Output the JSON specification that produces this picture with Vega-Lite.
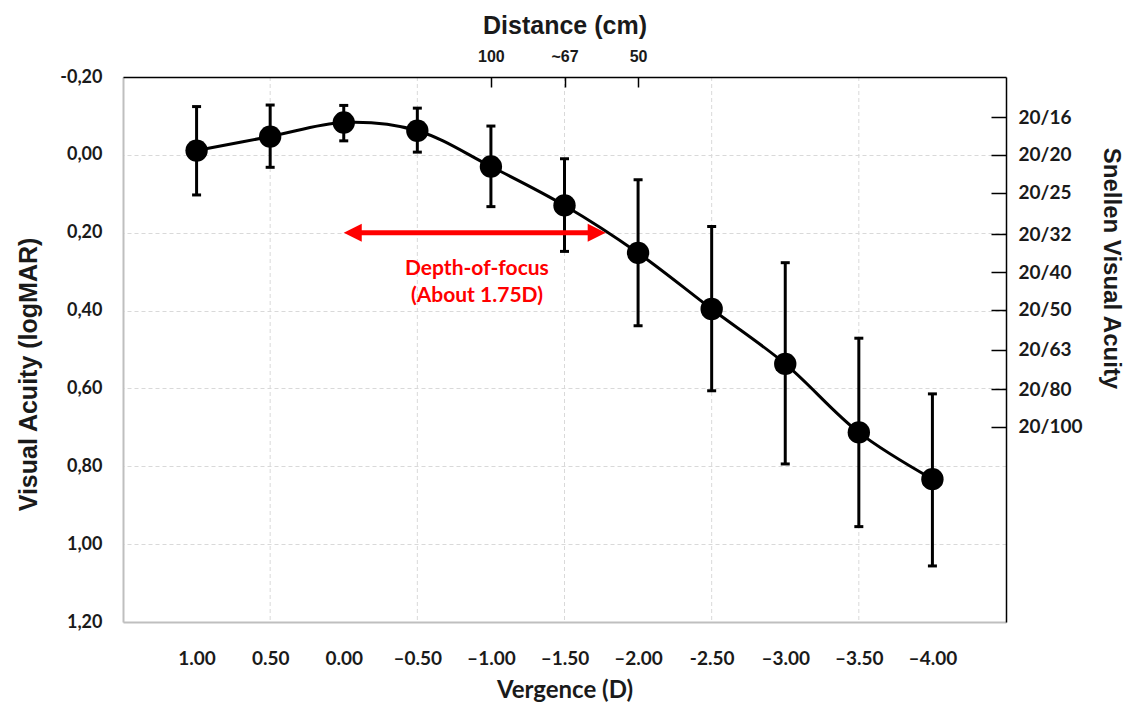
{
  "$schema": "https://vega.github.io/schema/vega-lite/v6.json",
  "width": 883,
  "height": 545,
  "autosize": {"type": "none"},
  "padding": {"left": 123, "top": 77, "right": 120, "bottom": 82},
  "background": "white",
  "config": {"view": {"stroke": null}},
  "datasets": {
    "va": [
      {"v": 1.0, "a": -0.011, "lo": -0.124, "hi": 0.103},
      {"v": 0.5, "a": -0.047, "lo": -0.128, "hi": 0.032},
      {"v": 0.0, "a": -0.083, "lo": -0.127, "hi": -0.036},
      {"v": -0.5, "a": -0.062, "lo": -0.120, "hi": -0.007},
      {"v": -1.0, "a": 0.030, "lo": -0.074, "hi": 0.133},
      {"v": -1.5, "a": 0.130, "lo": 0.010, "hi": 0.248},
      {"v": -2.0, "a": 0.252, "lo": 0.064, "hi": 0.439},
      {"v": -2.5, "a": 0.396, "lo": 0.184, "hi": 0.606},
      {"v": -3.0, "a": 0.537, "lo": 0.277, "hi": 0.794},
      {"v": -3.5, "a": 0.713, "lo": 0.471, "hi": 0.955},
      {"v": -4.0, "a": 0.833, "lo": 0.614, "hi": 1.056}
    ],
    "grid": [{"g": 0.5}, {"g": -0.5}, {"g": -1.5}, {"g": -2.5}, {"g": -3.5}],
    "arrow": [{"from": 0.0, "to": -1.78, "s1": -0.05, "s2": -1.73, "y": 0.2}],
    "note": [
      {"v": -0.905, "a": 0.293, "t": "Depth-of-focus"},
      {"v": -0.905, "a": 0.362, "t": "(About 1.75D)"}
    ]
  },
  "resolve": {"axis": {"x": "independent", "y": "independent"}},
  "layer": [
    {
      "data": {"name": "grid"},
      "mark": {"type": "rule", "color": "#d9d9d9", "strokeWidth": 1, "strokeDash": [4, 3]},
      "encoding": {
        "x": {"field": "g", "type": "quantitative", "scale": {"domain": [-4.5, 1.5], "reverse": true, "nice": false, "zero": false}, "axis": null}
      }
    },
    {
      "data": {"name": "va"},
      "mark": {"type": "rule", "color": "black", "strokeWidth": 3},
      "encoding": {
        "x": {"field": "v", "type": "quantitative", "scale": {"domain": [-4.5, 1.5], "reverse": true, "nice": false, "zero": false}, "axis": null},
        "y": {"field": "lo", "type": "quantitative", "scale": {"domain": [-0.2, 1.2], "reverse": true, "nice": false, "zero": false}, "axis": null},
        "y2": {"field": "hi"}
      }
    },
    {
      "data": {"name": "va"},
      "mark": {"type": "tick", "orient": "horizontal", "color": "black", "size": 9, "thickness": 3, "opacity": 1},
      "encoding": {
        "x": {"field": "v", "type": "quantitative", "scale": {"domain": [-4.5, 1.5], "reverse": true, "nice": false, "zero": false}, "axis": null},
        "y": {"field": "lo", "type": "quantitative", "scale": {"domain": [-0.2, 1.2], "reverse": true, "nice": false, "zero": false}, "axis": null}
      }
    },
    {
      "data": {"name": "va"},
      "mark": {"type": "tick", "orient": "horizontal", "color": "black", "size": 9, "thickness": 3, "opacity": 1},
      "encoding": {
        "x": {"field": "v", "type": "quantitative", "scale": {"domain": [-4.5, 1.5], "reverse": true, "nice": false, "zero": false}, "axis": null},
        "y": {"field": "hi", "type": "quantitative", "scale": {"domain": [-0.2, 1.2], "reverse": true, "nice": false, "zero": false}, "axis": null}
      }
    },
    {
      "data": {"name": "va"},
      "mark": {"type": "line", "color": "black", "strokeWidth": 3, "interpolate": "catmull-rom"},
      "encoding": {
        "x": {"field": "v", "type": "quantitative", "scale": {"domain": [-4.5, 1.5], "reverse": true, "nice": false, "zero": false}, "axis": null},
        "y": {"field": "a", "type": "quantitative", "scale": {"domain": [-0.2, 1.2], "reverse": true, "nice": false, "zero": false}, "axis": null}
      }
    },
    {
      "data": {"name": "va"},
      "mark": {"type": "circle", "color": "black", "size": 500, "opacity": 1},
      "encoding": {
        "x": {
          "field": "v", "type": "quantitative",
          "scale": {"domain": [-4.5, 1.5], "reverse": true, "nice": false, "zero": false},
          "axis": {
            "orient": "bottom",
            "values": [1, 0.5, 0, -0.5, -1, -1.5, -2, -2.5, -3, -3.5, -4],
            "labelExpr": "datum.value == 1 ? '1.00' : datum.value == 0.5 ? '0.50' : datum.value == 0 ? '0.00' : datum.value == -2.5 ? '-2.50' : '\u2013' + format(-datum.value, '.2f')",
            "grid": false, "ticks": false,
            "domainColor": "#bfbfbf", "domainWidth": 2,
            "labelFont": "Lato", "labelFontWeight": "bold", "labelFontSize": 19, "labelColor": "#1a1a1a",
            "labelBaseline": "middle", "labelPadding": 36, "labelFlush": false, "labelOverlap": false,
            "title": "Vergence (D)", "titleFont": "Lato", "titleFontWeight": "bold", "titleFontSize": 24, "titleColor": "#1a1a1a",
            "titleY": 68, "titleBaseline": "middle"
          }
        },
        "y": {
          "field": "a", "type": "quantitative",
          "scale": {"domain": [-0.2, 1.2], "reverse": true, "nice": false, "zero": false},
          "axis": {
            "orient": "left",
            "values": [-0.2, 0, 0.2, 0.4, 0.6, 0.8, 1.0, 1.2],
            "labelExpr": "replace(replace(format(datum.value, '.2f'), '.', ','), '\u2212', '-')",
            "grid": true, "gridColor": "#d9d9d9", "gridDash": [4, 3], "gridWidth": 1,
            "ticks": false,
            "domainColor": "#bfbfbf", "domainWidth": 2,
            "labelFont": "Lato", "labelFontWeight": "bold", "labelFontSize": 18, "labelColor": "#1a1a1a",
            "labelPadding": 21, "labelFlush": false, "labelOverlap": false,
            "title": "Visual Acuity (logMAR)", "titleFont": "Liberation Sans", "titleFontWeight": "bold", "titleFontSize": 25, "titleColor": "#1a1a1a",
            "titleX": -95, "titleY": 297, "titleAngle": -90, "titleBaseline": "middle", "titleAlign": "center"
          }
        }
      }
    },
    {
      "data": {"name": "arrow"},
      "mark": {"type": "rule", "color": "#ff0000", "strokeWidth": 5},
      "encoding": {
        "x": {"field": "s1", "type": "quantitative", "scale": {"domain": [-4.5, 1.5], "reverse": true, "nice": false, "zero": false}, "axis": null},
        "x2": {"field": "s2"},
        "y": {"field": "y", "type": "quantitative", "scale": {"domain": [-0.2, 1.2], "reverse": true, "nice": false, "zero": false}, "axis": null}
      }
    },
    {
      "data": {"name": "arrow"},
      "mark": {"type": "point", "shape": "M0,0 L1,-0.5 L1,0.5 Z", "filled": true, "color": "#ff0000", "opacity": 1, "size": 1296, "strokeWidth": 0},
      "encoding": {
        "x": {"field": "from", "type": "quantitative", "scale": {"domain": [-4.5, 1.5], "reverse": true, "nice": false, "zero": false}, "axis": null},
        "y": {"field": "y", "type": "quantitative", "scale": {"domain": [-0.2, 1.2], "reverse": true, "nice": false, "zero": false}, "axis": null}
      }
    },
    {
      "data": {"name": "arrow"},
      "mark": {"type": "point", "shape": "M0,0 L-1,-0.5 L-1,0.5 Z", "filled": true, "color": "#ff0000", "opacity": 1, "size": 1296, "strokeWidth": 0},
      "encoding": {
        "x": {"field": "to", "type": "quantitative", "scale": {"domain": [-4.5, 1.5], "reverse": true, "nice": false, "zero": false}, "axis": null},
        "y": {"field": "y", "type": "quantitative", "scale": {"domain": [-0.2, 1.2], "reverse": true, "nice": false, "zero": false}, "axis": null}
      }
    },
    {
      "data": {"name": "note"},
      "mark": {"type": "text", "color": "#ff0000", "font": "Lato", "fontWeight": "bold", "fontSize": 21, "align": "center", "baseline": "middle"},
      "encoding": {
        "x": {"field": "v", "type": "quantitative", "scale": {"domain": [-4.5, 1.5], "reverse": true, "nice": false, "zero": false}, "axis": null},
        "y": {"field": "a", "type": "quantitative", "scale": {"domain": [-0.2, 1.2], "reverse": true, "nice": false, "zero": false}, "axis": null},
        "text": {"field": "t"}
      }
    },
    {
      "data": {"name": "va"},
      "mark": {"type": "point", "opacity": 0},
      "encoding": {
        "x": {
          "field": "v", "type": "quantitative",
          "scale": {"domain": [-4.5, 1.5], "reverse": true, "nice": false, "zero": false},
          "axis": {
            "orient": "top", "zindex": 1,
            "values": [-1, -1.5, -2],
            "labelExpr": "datum.value == -1 ? '100' : datum.value == -1.5 ? '~67' : '50'",
            "grid": false, "ticks": true, "tickSize": -10, "tickColor": "black", "tickWidth": 1.5,
            "domainColor": "black", "domainWidth": 1.5,
            "labelFont": "Liberation Sans", "labelFontWeight": "bold", "labelFontSize": 16, "labelColor": "#1a1a1a",
            "labelPadding": 23, "labelFlush": false, "labelOverlap": false,
            "title": "Distance (cm)", "titleFont": "Liberation Sans", "titleFontWeight": "bold", "titleFontSize": 25, "titleColor": "#1a1a1a",
            "titleY": -52, "titleBaseline": "middle"
          }
        },
        "y": {
          "field": "a", "type": "quantitative",
          "scale": {"domain": [-0.2, 1.2], "reverse": true, "nice": false, "zero": false},
          "axis": {
            "orient": "right", "zindex": 1,
            "values": [-0.097, 0, 0.097, 0.204, 0.301, 0.398, 0.5, 0.602, 0.699],
            "labelExpr": "datum.value < -0.05 ? '20/16' : datum.value < 0.05 ? '20/20' : datum.value < 0.15 ? '20/25' : datum.value < 0.25 ? '20/32' : datum.value < 0.35 ? '20/40' : datum.value < 0.45 ? '20/50' : datum.value < 0.55 ? '20/63' : datum.value < 0.65 ? '20/80' : '20/100'",
            "grid": false, "ticks": true, "tickSize": -15, "tickColor": "black", "tickWidth": 1.5,
            "domainColor": "black", "domainWidth": 1.5,
            "labelFont": "Lato", "labelFontWeight": "bold", "labelFontSize": 19, "labelColor": "#1a1a1a",
            "labelAlign": "left", "labelPadding": 27, "labelFlush": false, "labelOverlap": false,
            "title": "Snellen Visual Acuity", "titleFont": "Liberation Sans", "titleFontWeight": "bold", "titleFontSize": 24, "titleColor": "#1a1a1a",
            "titleX": 104, "titleY": 191, "titleAngle": 90, "titleBaseline": "middle", "titleAlign": "center"
          }
        }
      }
    }
  ]
}
